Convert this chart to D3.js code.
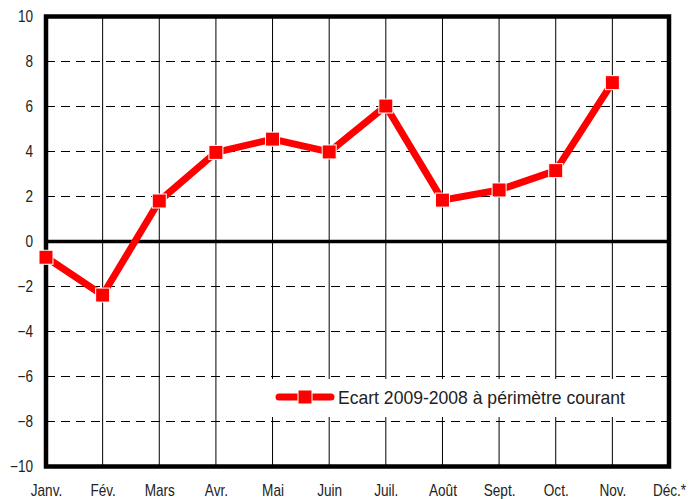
<!DOCTYPE html>
<html><head><meta charset="utf-8">
<script src="https://cdn.jsdelivr.net/npm/d3@7/dist/d3.min.js"></script>
<style>
html,body{margin:0;padding:0;background:#fff;}
svg text{font-family:"Liberation Sans Narrow","Arial Narrow","Liberation Sans",Arial,sans-serif;fill:#222;}
</style></head>
<body><svg id="c" width="699" height="499"></svg>
<script>
const months = ["Janv.","Fév.","Mars","Avr.","Mai","Juin","Juil.","Août","Sept.","Oct.","Nov.","Déc.*"];
const ecart = [-0.7,-2.38,1.8,3.96,4.55,3.98,6.02,1.84,2.29,3.15,7.06,null];
const yTicks = [-10,-8,-6,-4,-2,0,2,4,6,8,10];
const seriesName = "Ecart 2009-2008 à périmètre courant";

const FONT='"Liberation Sans Narrow","Arial Narrow","Liberation Sans",Arial,sans-serif';
const svg = d3.select("#c");
const L=46, R=669, T=16.5, B=466.5;
const x = d3.scalePoint().domain(months).range([L,R]);
const y = d3.scaleLinear().domain([-10,10]).range([B,T]);

// vertical solid grid
svg.append("g").selectAll("line").data(months.slice(1,-1)).join("line")
  .attr("x1",d=>x(d)).attr("x2",d=>x(d)).attr("y1",T).attr("y2",B)
  .attr("stroke","#000").attr("stroke-width",1);
// horizontal dashed grid
svg.append("g").selectAll("line").data(yTicks.filter(v=>v!==0&&Math.abs(v)!==10)).join("line")
  .attr("x1",L).attr("x2",R).attr("y1",d=>y(d)).attr("y2",d=>y(d))
  .attr("stroke","#000").attr("stroke-width",1).attr("stroke-dasharray","9,6");

// legend background
svg.append("rect").attr("x",272).attr("y",379).attr("width",362).attr("height",38).attr("fill","#fff");

// zero line
svg.append("line").attr("x1",L).attr("x2",R).attr("y1",y(0)).attr("y2",y(0))
  .attr("stroke","#000").attr("stroke-width",3.5);
// border
svg.append("rect").attr("x",L).attr("y",T).attr("width",R-L).attr("height",B-T)
  .attr("fill","none").attr("stroke","#000").attr("stroke-width",4.5);

// y axis labels
const yAxis = d3.axisLeft(y).tickValues(yTicks).tickSize(0).tickPadding(0);
const ya = svg.append("g").attr("transform",`translate(${L},0)`).call(yAxis);
ya.select(".domain").remove();
ya.selectAll("text").attr("font-size",16).attr("fill","#222").attr("x",0)
  .attr("transform","translate(-13,0) scale(0.85,1)")
  .style("font-family",FONT);

// x axis labels
const xAxis = d3.axisBottom(x).tickSize(0).tickPadding(18);
const xa = svg.append("g").attr("transform",`translate(0,${B})`).call(xAxis);
xa.select(".domain").remove();
xa.selectAll("text").attr("font-size",16).attr("fill","#222")
  .attr("transform","scale(0.85,1)")
  .style("font-family",FONT);

// series
const pts = months.map((m,i)=>({m,v:ecart[i]})).filter(d=>d.v!==null);
const line = d3.line().x(d=>x(d.m)).y(d=>y(d.v));
svg.append("path").datum(pts).attr("d",line).attr("fill","none")
  .attr("stroke","#ff0000").attr("stroke-width",7).attr("stroke-linejoin","round");
svg.append("g").selectAll("rect").data(pts).join("rect")
  .attr("x",d=>x(d.m)-7).attr("y",d=>y(d.v)-7).attr("width",14).attr("height",14)
  .attr("fill","#ff0000").attr("stroke","#fff").attr("stroke-width",1);

// legend
const ly=397;
svg.append("line").attr("x1",279).attr("x2",331).attr("y1",ly).attr("y2",ly)
  .attr("stroke","#ff0000").attr("stroke-width",7).attr("stroke-linecap","round");
svg.append("rect").attr("x",298).attr("y",ly-7).attr("width",14).attr("height",14)
  .attr("fill","#ff0000").attr("stroke","#fff").attr("stroke-width",1);
svg.append("text").attr("x",338).attr("y",ly+7).attr("font-size",19)
  .attr("textLength",287).attr("lengthAdjust","spacingAndGlyphs").text(seriesName);
</script></body></html>
